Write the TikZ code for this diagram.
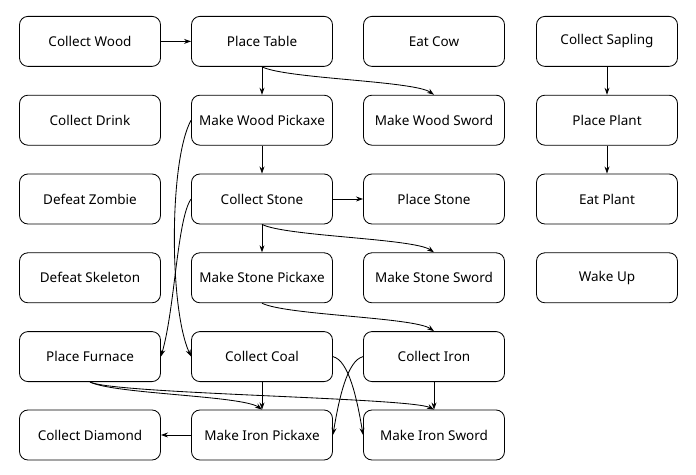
\documentclass[tikz,border=0pt]{standalone}
\usepackage{fontspec}
\setmainfont{Noto Sans}
\usetikzlibrary{arrows.meta, positioning}
\tikzset{
  task/.style={
    draw, rounded corners=6pt, line width=0.6pt,
    minimum width=3.525cm, minimum height=1.25cm,
    font=\fontsize{9.6}{12}\selectfont, align=center
  },
  arr/.style={-{Stealth[length=5pt,width=3.5pt]}, line width=0.6pt},
}
\begin{document}
\begin{tikzpicture}
    \useasboundingbox (0,0) rectangle (17.4,11.875);

    % column 1
    \node[task] (cwood) at (2.25,10.84) {Collect Wood};
    \node[task] (cdrink) at (2.25,8.87) {Collect Drink};
    \node[task] (dzombie) at (2.25,6.90) {Defeat Zombie};
    \node[task] (dskel) at (2.25,4.93) {Defeat Skeleton};
    \node[task] (pfurn) at (2.25,2.96) {Place Furnace};
    \node[task] (cdiam) at (2.25,1.00) {Collect Diamond};

    % column 2
    \node[task] (ptable) at (6.55,10.84) {Place Table};
    \node[task] (mwpick) at (6.55,8.87) {Make Wood Pickaxe};
    \node[task] (cstone) at (6.55,6.90) {Collect Stone};
    \node[task] (mspick) at (6.55,4.93) {Make Stone Pickaxe};
    \node[task] (ccoal) at (6.55,2.96) {Collect Coal};
    \node[task] (mipick) at (6.55,1.00) {Make Iron Pickaxe};

    % column 3
    \node[task] (ecow) at (10.85,10.84) {Eat Cow};
    \node[task] (mwsword) at (10.85,8.87) {Make Wood Sword};
    \node[task] (pstone) at (10.85,6.90) {Place Stone};
    \node[task] (mssword) at (10.85,4.93) {Make Stone Sword};
    \node[task] (ciron) at (10.85,2.96) {Collect Iron};
    \node[task] (misword) at (10.85,1.00) {Make Iron Sword};

    % column 4
    \node[task] (csap) at (15.175,10.84) {Collect Sapling};
    \node[task] (pplant) at (15.175,8.87) {Place Plant};
    \node[task] (eplant) at (15.175,6.90) {Eat Plant};
    \node[task] (wake) at (15.175,4.93) {Wake Up};

    % straight edges
    \draw[arr] (cwood) -- (ptable);
    \draw[arr] (ptable) -- (mwpick);
    \draw[arr] (mwpick) -- (cstone);
    \draw[arr] (cstone) -- (pstone);
    \draw[arr] (cstone) -- (mspick);
    \draw[arr] (ccoal) -- (mipick);
    \draw[arr] (ciron) -- (misword);
    \draw[arr] (mipick) -- (cdiam);
    \draw[arr] (csap) -- (pplant);
    \draw[arr] (pplant) -- (eplant);

    % curved edges
    \draw[arr] (ptable.south) .. controls +(0.6,-0.3) and +(-0.5,0.35) .. (mwsword.north);
    \draw[arr] (cstone.south) .. controls +(0.6,-0.3) and +(-0.5,0.35) .. (mssword.north);
    \draw[arr] (mspick.south) .. controls +(0.6,-0.3) and +(-0.5,0.35) .. (ciron.north);
    \draw[arr] (pfurn.south) .. controls +(0.6,-0.3) and +(-0.5,0.35) .. (mipick.north);
    \draw[arr] (pfurn.south) .. controls +(0.6,-0.3) and +(-0.6,0.3) .. (misword.north);
    \draw[arr] (mwpick.west) .. controls +(-0.55,-1.0) and +(-0.55,1.2) .. (ccoal.west);
    \draw[arr] (cstone.west) .. controls +(-0.35,-0.5) and +(0.35,1.2) .. (pfurn.east);
    \draw[arr] (ccoal.east) .. controls +(0.4,-0.1) and +(-0.15,0.9) .. (misword.west);
    \draw[arr] (ciron.west) .. controls +(-0.4,-0.1) and +(0.15,0.9) .. (mipick.east);
\end{tikzpicture}
\end{document}
